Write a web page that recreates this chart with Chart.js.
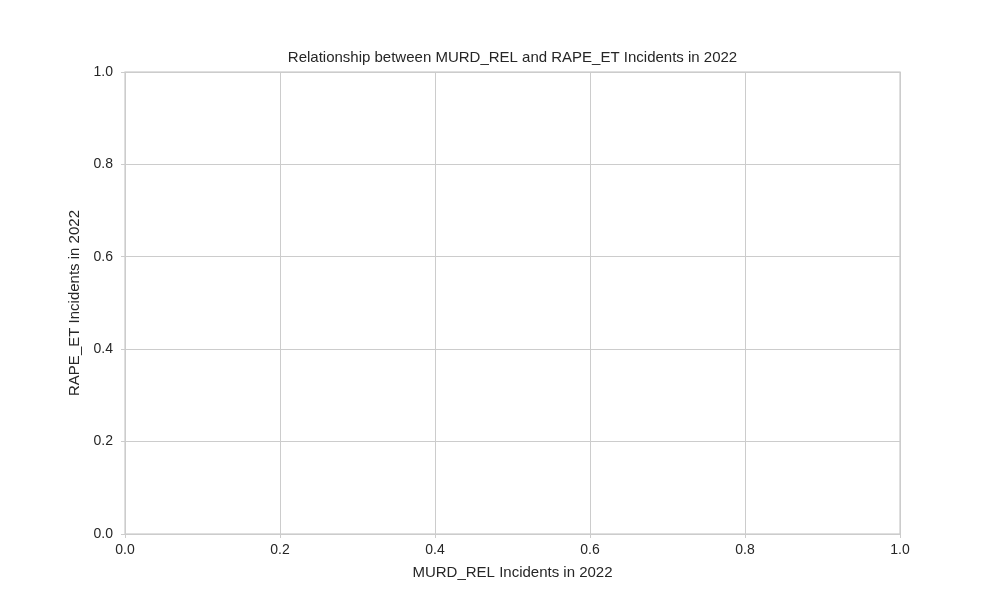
<!DOCTYPE html>
<html lang="en">
<head>
<meta charset="UTF-8">
<title>MURD_REL vs RAPE_ET</title>
<script src="https://cdn.jsdelivr.net/npm/chart.js"></script>
<style>
  html, body { margin: 0; padding: 0; background: #fff; }
  #wrap { width: 1000px; height: 600px; }
</style>
</head>
<body>
<div id="wrap"><canvas id="chart" width="1000" height="600"></canvas></div>
<script>
// No observations in the source chart, so the series are empty
const murdRel = [];
const rapeEt = [];
const axisMin = 0;
const axisMax = 1;
const tickStep = 0.2;
const chartTitle = 'Relationship between MURD_REL and RAPE_ET Incidents in 2022';
const xLabel = 'MURD_REL Incidents in 2022';
const yLabel = 'RAPE_ET Incidents in 2022';

const fontFamily = '"Liberation Sans", Arial, sans-serif';
const gridColor = '#cccccc';
const textColor = '#262626';

const points = murdRel.map((x, i) => ({ x: x, y: rapeEt[i] }));

// full box round the plot, plus title and axis labels placed by hand
const frame = {
    id: 'frame',
    afterDraw(chart) {
        const { ctx, chartArea: a } = chart;
        ctx.save();
        ctx.strokeStyle = gridColor;
        ctx.lineWidth = 1.25;
        ctx.strokeRect(a.left, a.top, a.right - a.left, a.bottom - a.top);
        ctx.fillStyle = textColor;
        ctx.font = '15px ' + fontFamily;
        ctx.textAlign = 'center';
        ctx.textBaseline = 'middle';
        ctx.fillText(chartTitle, (a.left + a.right) / 2, 58);
        ctx.fillText(xLabel, (a.left + a.right) / 2, 573);
        ctx.translate(75, (a.top + a.bottom) / 2);
        ctx.rotate(-Math.PI / 2);
        ctx.fillText(yLabel, 0, 0);
        ctx.restore();
    }
};

new Chart(document.getElementById('chart'), {
    type: 'scatter',
    data: {
        datasets: [{
            label: 'MURD_REL vs RAPE_ET',
            data: points,
            backgroundColor: 'rgba(31, 119, 180, 0.7)'
        }]
    },
    options: {
        responsive: false,
        animation: false,
        layout: { padding: { top: 72, right: 100, left: 0, bottom: 0 } },
        plugins: {
            legend: { display: false },
            title: { display: false },
            tooltip: { enabled: false }
        },
        scales: {
            x: {
                type: 'linear',
                min: axisMin,
                max: axisMax,
                ticks: {
                    stepSize: tickStep,
                    color: textColor,
                    font: { family: fontFamily, size: 14 },
                    padding: 4,
                    callback: v => v.toFixed(1)
                },
                grid: { color: gridColor, tickLength: 4, tickColor: gridColor },
                border: { color: gridColor },
                afterFit(scale) { scale.height = 66; }
            },
            y: {
                type: 'linear',
                min: axisMin,
                max: axisMax,
                ticks: {
                    stepSize: tickStep,
                    color: textColor,
                    font: { family: fontFamily, size: 14 },
                    padding: 8,
                    callback: v => v.toFixed(1)
                },
                grid: { color: gridColor, tickLength: 4, tickColor: gridColor },
                border: { color: gridColor },
                afterFit(scale) { scale.width = 125; }
            }
        }
    },
    plugins: [frame]
});
</script>
</body>
</html>
